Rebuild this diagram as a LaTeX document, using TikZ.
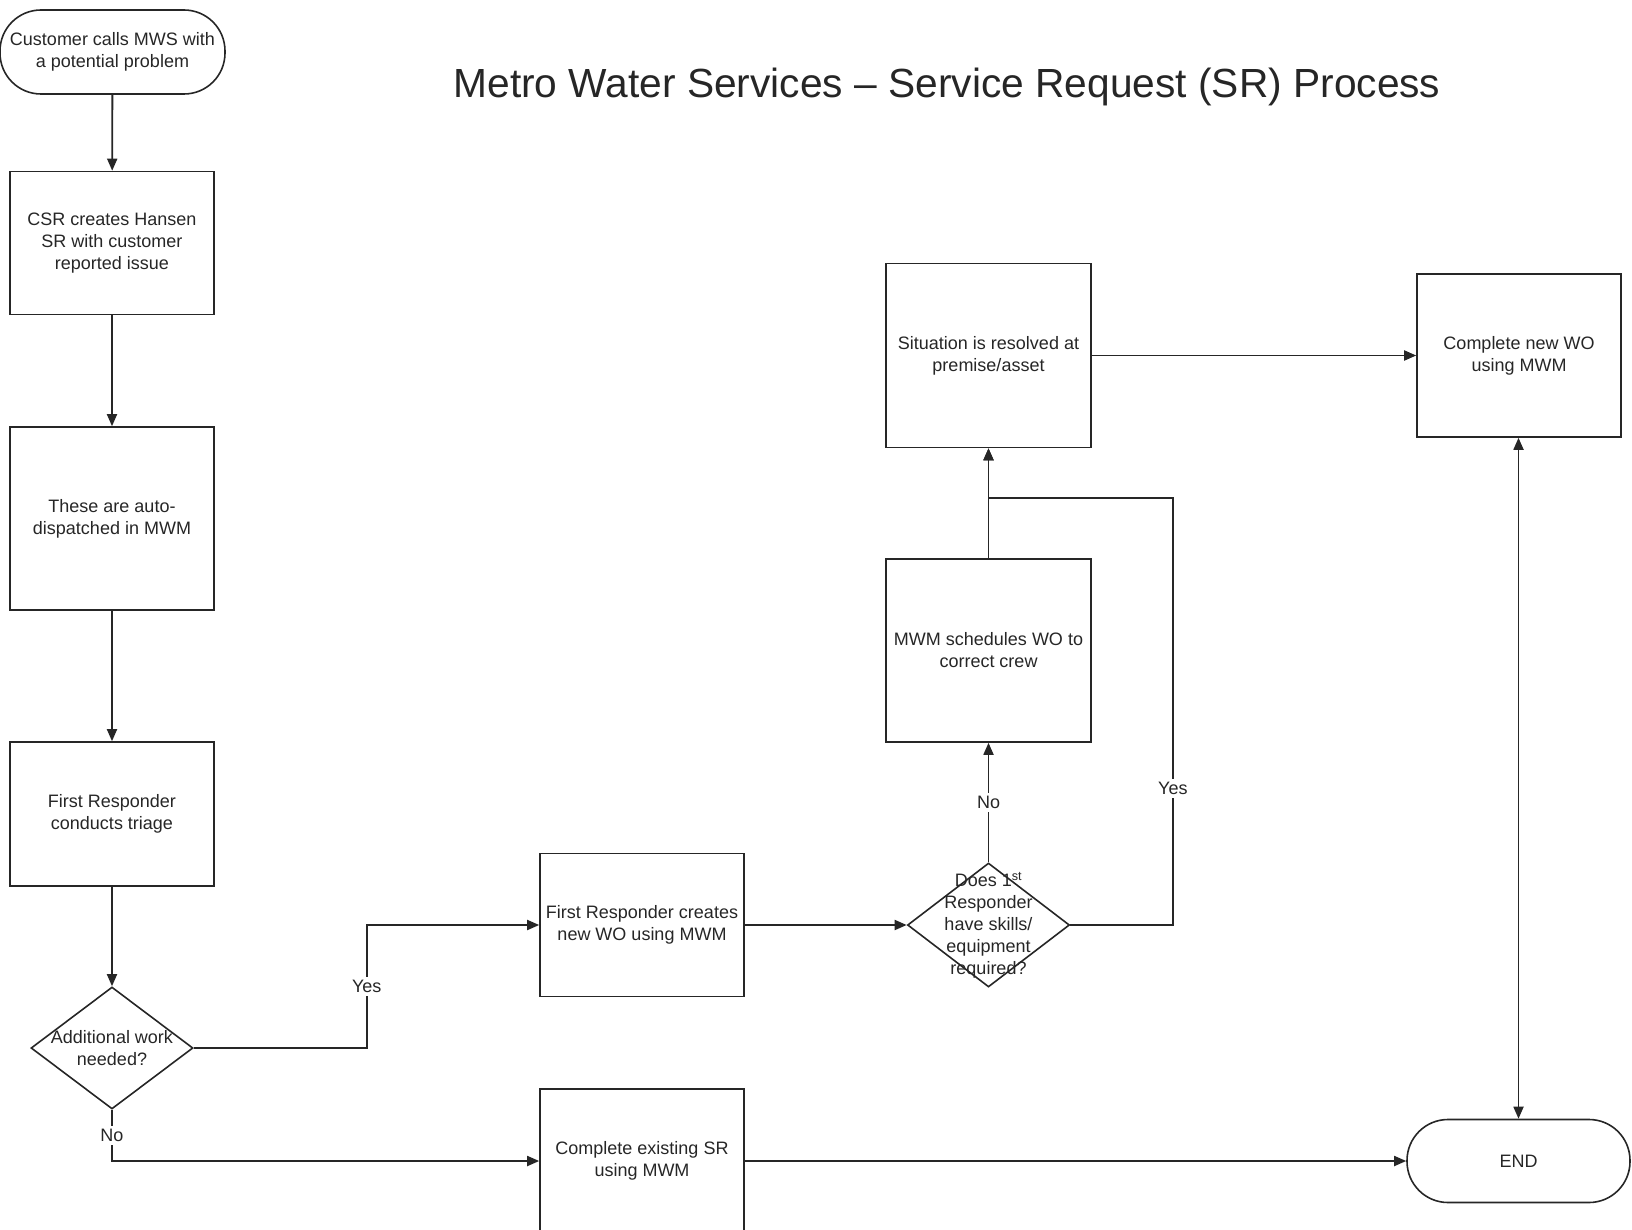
\documentclass[tikz,border=0pt]{standalone}
\usepackage{fontspec}
\setmainfont{Liberation Sans}
\usetikzlibrary{arrows.meta,shapes.geometric}
\tikzset{
  box/.style={draw,line width=1.6pt,minimum width=204pt,align=center,inner sep=2pt},
  term/.style={draw,line width=1.6pt,rounded corners=41pt,align=center,inner sep=0pt},
  decision/.style={draw,diamond,line width=1.6pt,minimum width=162pt,minimum height=122pt,inner sep=0pt},
  flow/.style={line width=1.8pt,-{Triangle[length=12pt,width=10pt]}},
  both/.style={line width=1.8pt,{Triangle[length=12pt,width=10pt]}-{Triangle[length=12pt,width=10pt]}},
  answer/.style={fill=white,inner sep=3pt}
}
\begin{document}
\begin{tikzpicture}[x=1pt,y=-1pt,font=\fontsize{18}{22}\selectfont,color=black!85]
    \useasboundingbox (0,0) rectangle (1632,1230);
    % Title
    \node (title) at (947,87) {\fontsize{40.7}{48}\selectfont Metro Water Services -- Service Request (SR) Process};
    % Left column
    \node[term,minimum width=225pt,minimum height=84pt] (start) at (112.5,52) {Customer calls MWS with\\a potential problem};
    \node[box,minimum height=143pt] (csr) at (112,243) {CSR creates Hansen\\SR with customer\\reported issue};
    \node[box,minimum height=183pt] (auto) at (112,518.5) {These are auto-\\dispatched in MWM};
    \node[box,minimum height=144pt] (triage) at (112,814) {First Responder\\conducts triage};
    \node[decision,label={[align=center]center:Additional work\\needed?}] (addwork) at (112,1048) {};
    % Middle
    \node[box,minimum height=143pt] (frwo) at (642,925) {First Responder creates\\new WO using MWM};
    \node[box,minimum height=144pt] (existing) at (642,1161) {Complete existing SR\\using MWM};
    \node[decision,minimum height=124pt,label={[align=center]center:Does 1\textsuperscript{st}\\Responder\\have skills/\\equipment\\required?}] (skills) at (988.5,925) {};
    \node[box,minimum width=205pt,minimum height=183pt] (sched) at (988.5,650.5) {MWM schedules WO to\\correct crew};
    \node[box,minimum width=205pt,minimum height=184pt] (resolved) at (988.5,355.5) {Situation is resolved at\\premise/asset};
    \coordinate (join) at (988.5,498);
    % Right column
    \node[box,minimum height=163pt] (newwo) at (1519,355.5) {Complete new WO\\using MWM};
    \node[term,minimum width=223pt,minimum height=83pt] (end) at (1518.5,1161) {END};
    % Connectors
    \draw[flow] (start) -- (csr);
    \draw[flow] (csr) -- (auto);
    \draw[flow] (auto) -- (triage);
    \draw[flow] (triage) -- (addwork);
    \draw[flow] (addwork.east) -- ++(173,0) |- node[answer,pos=0.25] {Yes} (frwo.west);
    \draw[flow] (addwork.south) |- node[answer,pos=0.25] {No} (existing.west);
    \draw[flow] (frwo) -- (skills);
    \draw[flow] (skills.north) -- node[answer] {No} (sched.south);
    \draw[flow] (skills.east) -- ++(102.5,0) |- node[answer,pos=0.16] {Yes} (join) -- (resolved.south);
    \draw[flow] (sched.north) -- (resolved.south);
    \draw[flow] (resolved) -- (newwo);
    \draw[flow] (existing) -- (end);
    \draw[both] (end.north) -- (end.north |- newwo.south);
\end{tikzpicture}
\end{document}
